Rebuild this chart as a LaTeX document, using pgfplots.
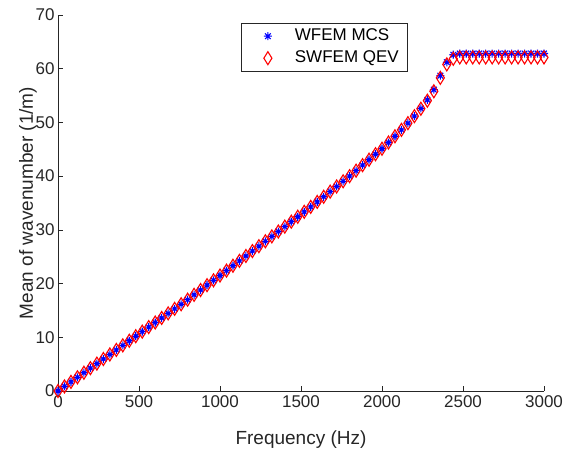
\documentclass[border=0pt]{standalone}
\usepackage{fontspec}
\setmainfont{Liberation Sans}
\usepackage{pgfplots}
\usepackage{pgfplotstable}
\pgfplotsset{compat=1.18}
\definecolor{axgray}{rgb}{0.15,0.15,0.15}
\pgfdeclareplotmark{mstar}{%
 \pgfpathmoveto{\pgfqpoint{-\pgfplotmarksize}{0pt}}\pgfpathlineto{\pgfqpoint{\pgfplotmarksize}{0pt}}%
 \pgfpathmoveto{\pgfqpoint{0pt}{-\pgfplotmarksize}}\pgfpathlineto{\pgfqpoint{0pt}{\pgfplotmarksize}}%
 \pgfpathmoveto{\pgfqpoint{-.7071\pgfplotmarksize}{-.7071\pgfplotmarksize}}\pgfpathlineto{\pgfqpoint{.7071\pgfplotmarksize}{.7071\pgfplotmarksize}}%
 \pgfpathmoveto{\pgfqpoint{-.7071\pgfplotmarksize}{.7071\pgfplotmarksize}}\pgfpathlineto{\pgfqpoint{.7071\pgfplotmarksize}{-.7071\pgfplotmarksize}}%
 \pgfusepathqstroke}
\pgfdeclareplotmark{mdiamond}{%
 \pgfpathmoveto{\pgfqpoint{0pt}{\pgfplotmarksize}}%
 \pgfpathlineto{\pgfqpoint{.62\pgfplotmarksize}{0pt}}%
 \pgfpathlineto{\pgfqpoint{0pt}{-\pgfplotmarksize}}%
 \pgfpathlineto{\pgfqpoint{-.62\pgfplotmarksize}{0pt}}%
 \pgfpathclose
 \pgfusepathqstroke}
\pgfplotstableread{
f w s
0 0 0
40 0.85 0.85
80 1.70 1.70
120 2.55 2.55
160 3.40 3.40
200 4.25 4.25
240 5.10 5.10
280 5.95 5.95
320 6.80 6.80
360 7.65 7.65
400 8.50 8.50
440 9.35 9.35
480 10.20 10.20
520 11.05 11.05
560 11.90 11.90
600 12.75 12.75
640 13.60 13.60
680 14.45 14.45
720 15.30 15.30
760 16.15 16.15
800 17.00 17.00
840 17.90 17.90
880 18.80 18.80
920 19.70 19.70
960 20.60 20.60
1000 21.50 21.50
1040 22.41 22.41
1080 23.32 23.32
1120 24.23 24.23
1160 25.14 25.14
1200 26.05 26.05
1240 26.96 26.96
1280 27.87 27.87
1320 28.78 28.78
1360 29.69 29.69
1400 30.60 30.60
1440 31.52 31.52
1480 32.44 32.44
1520 33.36 33.36
1560 34.28 34.28
1600 35.20 35.20
1640 36.16 36.16
1680 37.12 37.12
1720 38.08 38.08
1760 39.04 39.04
1800 40.00 40.00
1840 41.02 41.02
1880 42.04 42.04
1920 43.06 43.06
1960 44.08 44.08
2000 45.10 45.10
2040 46.26 46.26
2080 47.42 47.42
2120 48.62 48.62
2160 49.86 49.86
2200 51.16 51.16
2240 52.60 52.55
2280 54.20 54.05
2320 56.10 55.80
2360 58.70 58.30
2400 61.20 60.80
2440 62.60 61.85
2480 62.83 62.10
2520 62.83 62.10
2560 62.83 62.10
2600 62.83 62.10
2640 62.83 62.10
2680 62.83 62.10
2720 62.83 62.10
2760 62.83 62.10
2800 62.83 62.10
2840 62.83 62.10
2880 62.83 62.10
2920 62.83 62.10
2960 62.83 62.10
3000 62.83 62.10
}\datatable
\begin{document}
\begin{tikzpicture}
\useasboundingbox (-58pt,-59pt) rectangle (506pt,391pt);
\begin{axis}[
  at={(0pt,0pt)}, anchor=south west,
  scale only axis, width=486pt, height=376pt,
  xmin=0, xmax=3000, ymin=0, ymax=70,
  enlargelimits=false,
  axis x line=bottom, axis y line=left,
  axis line style={-, draw=axgray, line width=0.6pt},
  xtick={0,500,...,3000}, ytick={0,10,...,70},
  tick align=inside, major tick length=5pt,
  every tick/.style={draw=axgray, line width=0.6pt},
  /pgf/number format/assume math mode=true,
  /pgf/number format/set thousands separator={},
  tick label style={font=\fontsize{17}{20}\selectfont, text=axgray},
  xticklabel style={yshift=-1pt},
  xlabel={Frequency (Hz)},
  ylabel={Mean of wavenumber (1/m)},
  every axis x label/.style={at={(axis description cs:0.5,-0.1303)}, anchor=center,
    font=\fontsize{19}{22}\selectfont, text=axgray},
  every axis y label/.style={at={(axis description cs:-0.0617,0.5)}, anchor=center, rotate=90,
    font=\fontsize{19}{22}\selectfont, text=axgray},
  clip=false,
  legend style={at={(0.548,0.979)}, anchor=north, draw=axgray, line width=0.6pt,
    fill=white, font=\fontsize{17}{20}\selectfont, inner xsep=6pt, inner ysep=2pt,
    nodes={inner sep=3pt, text height=12pt, text depth=4pt}, cells={anchor=west}},
  legend image code/.code={\path[draw=none] (0pt,0pt) -- (45pt,0pt); \draw[#1] plot coordinates {(21pt,0pt)};},
]
\addplot[only marks, mark=mstar, mark size=4pt, color=blue, mark options={line width=1.1pt}] table[x=f, y=w] {\datatable};
\addlegendentry{WFEM MCS}
\addplot[only marks, mark=mdiamond, mark size=6.5pt, color=red, mark options={line width=1.1pt, fill=none}] table[x=f, y=s] {\datatable};
\addlegendentry{SWFEM QEV}
\end{axis}
\end{tikzpicture}
\end{document}
